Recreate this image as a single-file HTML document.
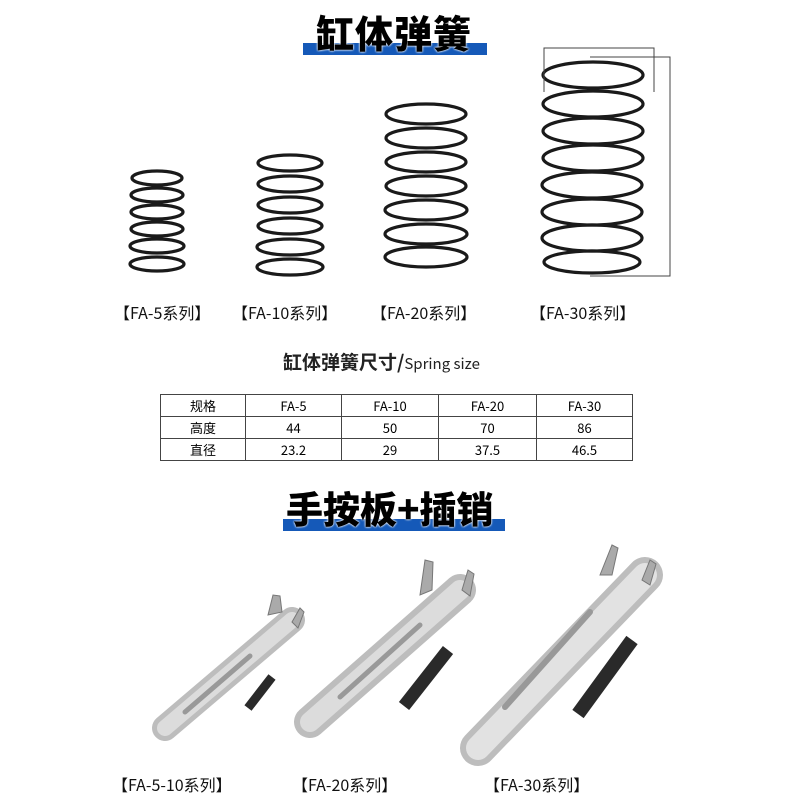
<!DOCTYPE html>
<html><head><meta charset="utf-8"><style>
body{margin:0;width:800px;height:800px;background:#fff;position:relative;overflow:hidden;font-family:"Liberation Sans","Noto Sans CJK SC",sans-serif}
.t{position:absolute;white-space:nowrap;color:#111}
.bar{position:absolute;background:#1559b8}
.h{font-weight:900;font-size:38px;font-family:"Noto Sans CJK SC",sans-serif;color:#000;text-shadow:0 0 2px #fff,0 0 2px #fff}
.lb{font-size:16px;font-family:"Noto Sans CJK SC",sans-serif;color:#111}
table{position:absolute;left:160px;top:394px;border-collapse:collapse;font-family:"Noto Sans CJK SC",sans-serif;font-size:13px}
td{border:1px solid #444;height:21px;padding:0;text-align:center;line-height:21px}
</style></head><body>
<div class="bar" style="left:303px;top:43px;width:184px;height:12px"></div>
<div class="t h" style="left:316px;top:4px;letter-spacing:1px">缸体弹簧</div>

<svg style="position:absolute;left:0;top:0" width="800" height="800">
<g fill="none" stroke="#1a1a1a" stroke-width="3.2">
<ellipse cx="157" cy="178" rx="25" ry="7"/><ellipse cx="157" cy="195" rx="26" ry="7"/><ellipse cx="157" cy="212" rx="26" ry="7"/><ellipse cx="157" cy="229" rx="26" ry="7"/><ellipse cx="157" cy="246" rx="27" ry="7"/><ellipse cx="157" cy="264" rx="27" ry="7"/>
<ellipse cx="290" cy="163" rx="32" ry="8"/><ellipse cx="290" cy="184" rx="32" ry="8"/><ellipse cx="290" cy="205" rx="32" ry="8"/><ellipse cx="290" cy="226" rx="32" ry="8"/><ellipse cx="290" cy="247" rx="33" ry="8"/><ellipse cx="290" cy="267" rx="33" ry="8"/>
<ellipse cx="426" cy="114" rx="40" ry="10"/><ellipse cx="426" cy="138" rx="40" ry="10"/><ellipse cx="426" cy="162" rx="40" ry="10"/><ellipse cx="426" cy="186" rx="40" ry="10"/><ellipse cx="426" cy="210" rx="41" ry="10"/><ellipse cx="426" cy="234" rx="41" ry="10"/><ellipse cx="426" cy="257" rx="41" ry="10"/>
<ellipse cx="593" cy="75" rx="50" ry="13"/><ellipse cx="593" cy="104" rx="50" ry="13"/><ellipse cx="593" cy="131" rx="50" ry="13"/><ellipse cx="593" cy="158" rx="50" ry="13"/><ellipse cx="592" cy="185" rx="50" ry="13"/><ellipse cx="592" cy="212" rx="50" ry="13"/><ellipse cx="592" cy="238" rx="50" ry="13"/><ellipse cx="592" cy="262" rx="48" ry="11"/>
</g>
<g fill="none" stroke="#444" stroke-width="1">
<polyline points="544,92 544,48 654,48 654,92"/>
<polyline points="590,57 670,57 670,276 590,276"/>
</g>
<g stroke-linecap="round">
<line x1="165" y1="728" x2="292" y2="620" stroke="#bdbdbd" stroke-width="26"/>
<line x1="165" y1="728" x2="292" y2="620" stroke="#dcdcdc" stroke-width="16"/>
<line x1="185" y1="712" x2="250" y2="656" stroke="#999" stroke-width="5"/>
<line x1="310" y1="722" x2="460" y2="590" stroke="#bdbdbd" stroke-width="32"/>
<line x1="310" y1="722" x2="460" y2="590" stroke="#dcdcdc" stroke-width="20"/>
<line x1="340" y1="697" x2="420" y2="625" stroke="#999" stroke-width="5"/>
<line x1="478" y1="748" x2="645" y2="575" stroke="#bdbdbd" stroke-width="36"/>
<line x1="478" y1="748" x2="645" y2="575" stroke="#e2e2e2" stroke-width="24"/>
<line x1="505" y1="707" x2="590" y2="612" stroke="#999" stroke-width="6"/>
<line x1="248" y1="708" x2="272" y2="677" stroke="#2a2a2a" stroke-width="9" stroke-linecap="butt"/>
<line x1="404" y1="706" x2="448" y2="650" stroke="#2a2a2a" stroke-width="13" stroke-linecap="butt"/>
<line x1="578" y1="714" x2="632" y2="640" stroke="#2a2a2a" stroke-width="14" stroke-linecap="butt"/>
</g>
<g fill="#aaa" stroke="#777">
<polygon points="268,615 273,595 280,596 282,612"/><polygon points="292,622 300,608 304,612 298,628"/>
<polygon points="420,595 425,560 433,562 432,590"/><polygon points="462,590 468,570 474,574 470,596"/>
<polygon points="600,575 612,545 618,548 612,575"/><polygon points="642,580 650,560 656,564 650,585"/>
</g>
</svg>

<div class="t lb" style="left:114px;top:300px">【FA-5系列】</div>
<div class="t lb" style="left:232px;top:300px">【FA-10系列】</div>
<div class="t lb" style="left:371px;top:300px">【FA-20系列】</div>
<div class="t lb" style="left:530px;top:300px">【FA-30系列】</div>

<div class="t" style="left:283px;top:348px;font-family:'Noto Sans CJK SC',sans-serif;font-weight:700;font-size:19px;color:#222">缸体弹簧尺寸/<span style="font-weight:400;font-size:15px">Spring size</span></div>

<table>
<tr><td style="width:84px">规格</td><td style="width:95px">FA-5</td><td style="width:96px">FA-10</td><td style="width:97px">FA-20</td><td style="width:95px">FA-30</td></tr>
<tr><td>高度</td><td>44</td><td>50</td><td>70</td><td>86</td></tr>
<tr><td>直径</td><td>23.2</td><td>29</td><td>37.5</td><td>46.5</td></tr>
</table>

<div class="bar" style="left:283px;top:519px;width:222px;height:12px"></div>
<div class="t h" style="left:286px;top:480px;font-size:37px">手按板+插销</div>

<div class="t lb" style="left:112px;top:772px">【FA-5-10系列】</div>
<div class="t lb" style="left:292px;top:772px">【FA-20系列】</div>
<div class="t lb" style="left:484px;top:772px">【FA-30系列】</div>
</body></html>
